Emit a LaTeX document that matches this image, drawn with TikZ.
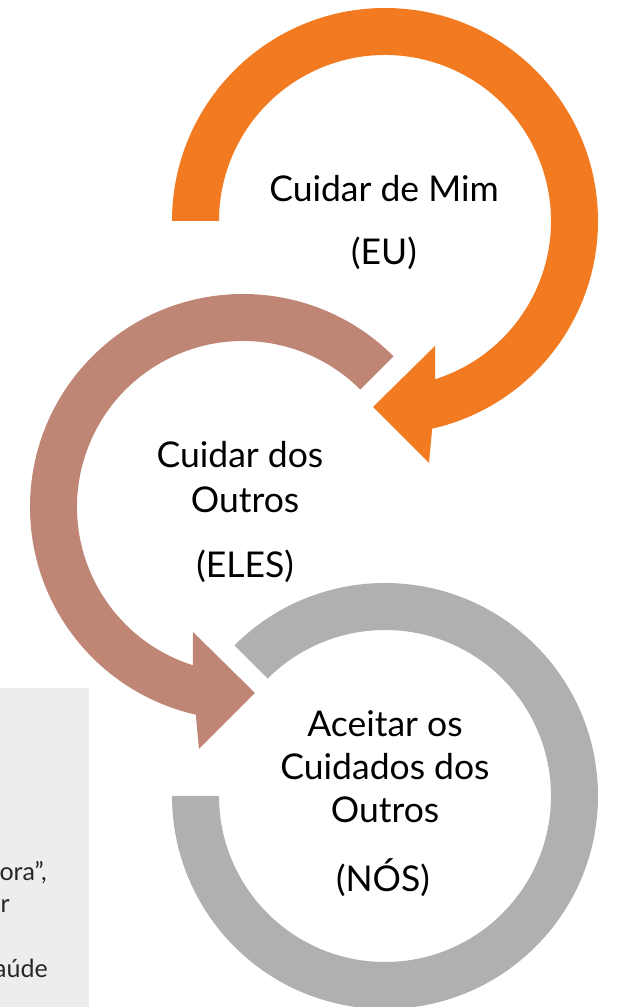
\documentclass[tikz,border=0pt]{standalone}
\usepackage{fontspec}
\setmainfont{Lato}
\usetikzlibrary{calc}
\definecolor{orng}{HTML}{F27B22}
\definecolor{brwn}{HTML}{C08675}
\definecolor{gry}{HTML}{B0B0B0}
\definecolor{boxgrey}{HTML}{EDEDED}
\begin{document}
\begin{tikzpicture}[x=1pt,y=1pt,
  lbl/.style={font=\fontsize{35.5}{40}\selectfont, inner sep=0pt, anchor=base, text=black},
  sidetxt/.style={font=\fontsize{25}{29}\selectfont, inner sep=0pt, text=black!85}]
\useasboundingbox (0,0) rectangle (617,1007);
% grey side box
\fill[boxgrey] (0,0) rectangle (89,319);
\begin{scope}
\clip (0,0) rectangle (89,319);
\node[sidetxt, anchor=base east] (s1) at (47,126) {ora”,};
\node[sidetxt, anchor=base east] (s2) at (10,94) {ar};
\node[sidetxt, anchor=base east] (s3) at (48,29) {aúde};
\end{scope}
% centres
\coordinate (oc) at (385,786);
\coordinate (bc) at (243,500);
\coordinate (gc) at (385,211);
% orange circular arrow
\fill[orng] ($(oc)+(180:213)$) arc[start angle=180, end angle=-77.2, radius=213]
  -- ($(oc)+(44,-242)$) -- ($(oc)+(-12,-186)$) -- ($(oc)+(50,-125)$)
  -- ($(oc)+(-72.4:166)$) arc[start angle=-72.4, end angle=180, radius=166] -- cycle;
% brown circular arrow
\fill[brwn] ($(bc)+(45:213)$) arc[start angle=45, end angle=257.2, radius=213]
  -- ($(bc)+(-44,-242)$) -- ($(bc)+(12,-186)$) -- ($(bc)+(-50,-125)$)
  -- ($(bc)+(252.4:166)$) arc[start angle=252.4, end angle=45, radius=166] -- cycle;
% grey arc
\fill[gry] ($(gc)+(135:213)$) arc[start angle=135, end angle=-180, radius=213]
  -- ($(gc)+(180:166)$) arc[start angle=-180, end angle=135, radius=166] -- cycle;
% labels
\node[lbl] (eu1) at (384,805) {Cuidar de Mim};
\node[lbl] (eu2) at (384,742) {(EU)};
\node[lbl] (el1) at (240,539) {Cuidar dos};
\node[lbl] (el2) at (245,494) {Outros};
\node[lbl] (el3) at (245,429) {(ELES)};
\node[lbl] (n1) at (385,270) {Aceitar os};
\node[lbl] (n2) at (385,227) {Cuidados dos};
\node[lbl] (n3) at (385,184) {Outros};
\node[lbl] (n4) at (383,115) {(NÓS)};
\end{tikzpicture}
\end{document}
